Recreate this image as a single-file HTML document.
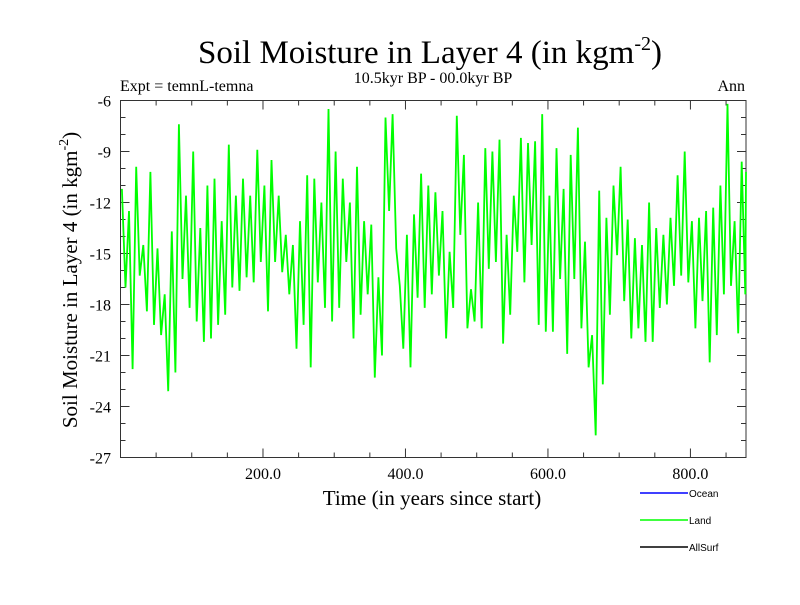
<!DOCTYPE html>
<html><head><meta charset="utf-8"><style>
body{margin:0;background:#fff;}
svg text{font-family:"Liberation Serif",serif;}
</style></head><body>
<svg id="chart" width="800" height="600" xmlns="http://www.w3.org/2000/svg">
<text x="430" y="63" font-size="33" text-anchor="middle">Soil Moisture in Layer 4 (in kgm<tspan dy="-13" font-size="20">-2</tspan><tspan dy="13">)</tspan></text>
<text x="433" y="83" font-size="16" text-anchor="middle">10.5kyr BP - 00.0kyr BP</text>
<text x="120" y="91" font-size="16">Expt = temnL-temna</text>
<text x="745" y="91" font-size="16" text-anchor="end">Ann</text>
<text transform="translate(77,280) rotate(-90)" font-size="21" text-anchor="middle">Soil Moisture in Layer 4 (in kgm<tspan dy="-9" font-size="14">-2</tspan><tspan dy="9">)</tspan></text>
<text x="432" y="505" font-size="21" text-anchor="middle">Time (in years since start)</text>
<g id="axes"></g>
<g id="series"></g>
<g>
<line x1="640" y1="493" x2="688" y2="493" stroke="#0000ff" stroke-width="1.5"/>
<text x="689" y="497" font-size="10" style="font-family:'Liberation Sans',sans-serif">Ocean</text>
<line x1="640" y1="520" x2="688" y2="520" stroke="#00ff00" stroke-width="1.5"/>
<text x="689" y="524" font-size="10" style="font-family:'Liberation Sans',sans-serif">Land</text>
<line x1="640" y1="547" x2="688" y2="547" stroke="#000" stroke-width="1.5"/>
<text x="689" y="551" font-size="10" style="font-family:'Liberation Sans',sans-serif">AllSurf</text>
</g>
</svg>
<script>
const xTicks = [200, 400, 600, 800];
const xTickLabels = ["200.0", "400.0", "600.0", "800.0"];
const yTicks = [-6, -9, -12, -15, -18, -21, -24, -27];
const yTickLabels = ["-6", "-9", "-12", "-15", "-18", "-21", "-24", "-27"];
const yearStep = 5;
const landValues = [
-11.2,-17,-12.5,-21.8,-9.9,-16.3,-14.5,-18.4,-10.2,-19.2,-14.7,-19.8,-17.4,-23.1,-13.7,-22,-7.4,-16.5,-11.6,-18.2,
-9,-19,-13.5,-20.2,-11,-20,-10.6,-19.2,-13.1,-18.6,-8.6,-17,-11.6,-17.2,-10.6,-16.4,-11.6,-16.7,-8.9,-15.5,
-11,-18.4,-9.5,-15.5,-11.6,-16.1,-13.9,-17.4,-14.5,-20.6,-13.1,-19.2,-10.4,-21.7,-10.6,-16.7,-12,-18.2,
-6.5,-19,-9,-18.2,-10.6,-15.5,-12,-20,-9.9,-18.6,-13.1,-17.4,-13.3,-22.3,-16.4,-21,-7,-12.5,-6.8,-14.7,
-16.9,-20.6,-13.9,-21.7,-12.7,-17.6,-10.3,-18.2,-11,-17.4,-11.4,-16.3,-12.5,-20,-14.9,-18.2,-6.9,-13.9,
-9.2,-19.4,-17.1,-19,-12,-19.4,-8.8,-15.9,-9,-15.5,-8.3,-20.3,-13.9,-18.6,-11.6,-14.9,-8.2,-16.7,-8.5,-14.5,
-8.4,-19.2,-6.8,-19.6,-11.6,-19.6,-8.8,-16.5,-11.2,-20.9,-9.2,-16.5,-7.6,-19.4,-14.3,-21.7,-19.8,-25.7,
-11.3,-22.7,-12.9,-18.6,-11,-15.1,-9.9,-17.8,-13,-20,-14.1,-19.4,-14.5,-20.2,-12,-20.2,-13.5,-18.2,
-13.9,-18,-12.9,-16.9,-10.4,-16.3,-9,-16.7,-13.1,-19.4,-12.9,-17.8,-12.5,-21.4,-12.3,-19.8,-11,-17.4,
-6.2,-16.9,-13.1,-19.7,-9.6,-17.4,-10.2
];
const X0=120.5, XR=746, XMAX=878, YT=100.5, YB=457.5, YMAX=-6, YMIN=-27;
function xs(v){return X0+(v/XMAX)*(XR-X0);}
function ys(v){return YT+(YMAX-v)/(YMAX-YMIN)*(YB-YT);}
const NS="http://www.w3.org/2000/svg";
const axes=document.getElementById('axes');
function mk(tag,attrs,parent){const e=document.createElementNS(NS,tag);for(const k in attrs)e.setAttribute(k,attrs[k]);parent.appendChild(e);return e;}
const frame=mk('rect',{x:X0,y:YT,width:XR-X0,height:YB-YT,fill:'none',stroke:'#333','stroke-width':1},axes);


for(let v=50;v<XMAX;v+=50){
  const major=v%200===0; const L=major?9:5;
  const t1=mk('line',{x1:xs(v),x2:xs(v),y1:YB,y2:YB-L,stroke:'#333'},axes);
  
  
  const t2=mk('line',{x1:xs(v),x2:xs(v),y1:YT,y2:YT+L,stroke:'#333'},axes);
  
  
}
xTicks.forEach((v,i)=>{
  const t=mk('text',{x:xs(v),y:479,'font-size':16,'text-anchor':'middle'},axes);
  t.textContent=xTickLabels[i];
  
  
});
for(let v=YMAX;v>=YMIN;v--){
  const major=(v%3===0); const L=major?9:5;
  const t1=mk('line',{x1:X0,x2:X0+L,y1:ys(v),y2:ys(v),stroke:'#333'},axes);
  
  
  const t2=mk('line',{x1:XR,x2:XR-L,y1:ys(v),y2:ys(v),stroke:'#333'},axes);
  
  
}
yTicks.forEach((v,i)=>{
  const t=mk('text',{x:111,y:ys(v)+6,'font-size':16,'text-anchor':'end'},axes);
  t.textContent=yTickLabels[i];
  
  
});
const pts=landValues.map((v,i)=>xs(Math.min(i*yearStep+2,XMAX)).toFixed(1)+','+ys(v).toFixed(1)).join(' ');
const line=mk('polyline',{points:pts,fill:'none',stroke:'#00ff00','stroke-width':1.8,'stroke-linejoin':'miter'},document.getElementById('series'));


</script>
</body></html>
